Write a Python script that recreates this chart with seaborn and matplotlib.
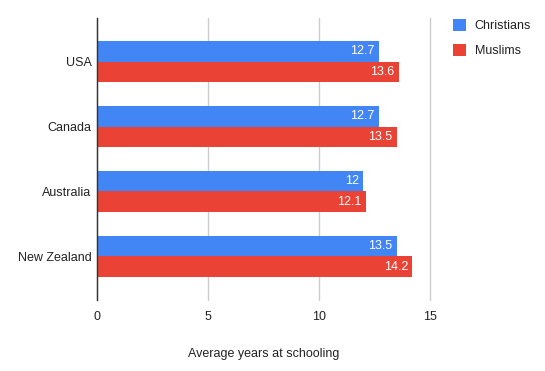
import pandas as pd
import matplotlib.pyplot as plt
import seaborn as sns
from matplotlib.patches import Patch

# Données
countries = ['USA', 'Canada', 'Australia', 'New Zealand']
christians = [12.7, 12.7, 12.0, 13.5]
muslims = [13.6, 13.5, 12.1, 14.2]
groups = ['Christians', 'Muslims']
colors = {'Christians': '#4285F4', 'Muslims': '#EA4335'}

df = pd.DataFrame({
    'country': countries * 2,
    'years': christians + muslims,
    'group': ['Christians'] * len(countries) + ['Muslims'] * len(countries),
})

sns.set_theme(style='white')
plt.rcParams['font.family'] = ['Liberation Sans', 'DejaVu Sans']

fig = plt.figure(figsize=(5.45, 3.71), dpi=100)
ax = fig.add_axes([97 / 545, 1 - 300 / 371, (430 - 97) / 545, (300 - 18) / 371])

sns.barplot(data=df, y='country', x='years', hue='group', order=countries,
            hue_order=groups, palette=colors, orient='h', width=0.63,
            ax=ax, legend=False, saturation=1, linewidth=0)

# étiquettes blanches à l'intérieur des barres
for cont in ax.containers:
    labels = ax.bar_label(cont, fmt='%g', padding=-3, color='white', fontsize=9)
    for t in labels:
        t.set_ha('right')

ax.set_xlim(0, 15)
ax.set_ylim(3.67, -0.67)
ax.set_xticks([0, 5, 10, 15])
ax.xaxis.grid(True, color='#cccccc', linewidth=1)
for gl in ax.get_xgridlines():
    gl.set_clip_on(False)
ax.set_axisbelow(True)
for s in ['top', 'right', 'bottom']:
    ax.spines[s].set_visible(False)
ax.spines['left'].set_color('#333333')
ax.spines['left'].set_linewidth(1)
ax.tick_params(axis='both', length=0, labelsize=9, colors='#222222')
ax.tick_params(axis='x', pad=8)
ax.tick_params(axis='y', pad=4)
ax.set_ylabel('')
ax.set_xlabel('Average years at schooling', fontsize=9, color='#222222', labelpad=18)

handles = [Patch(facecolor=colors[g], edgecolor='none', label=g) for g in groups]
fig.legend(handles=handles, loc='upper left', bbox_to_anchor=(442 / 545, 1 - 8 / 371),
           frameon=False, fontsize=9, handlelength=1.05, handleheight=1.05,
           handletextpad=0.65, labelspacing=0.95, labelcolor='#222222')

plt.savefig('out.png', dpi=100)
plt.close()
